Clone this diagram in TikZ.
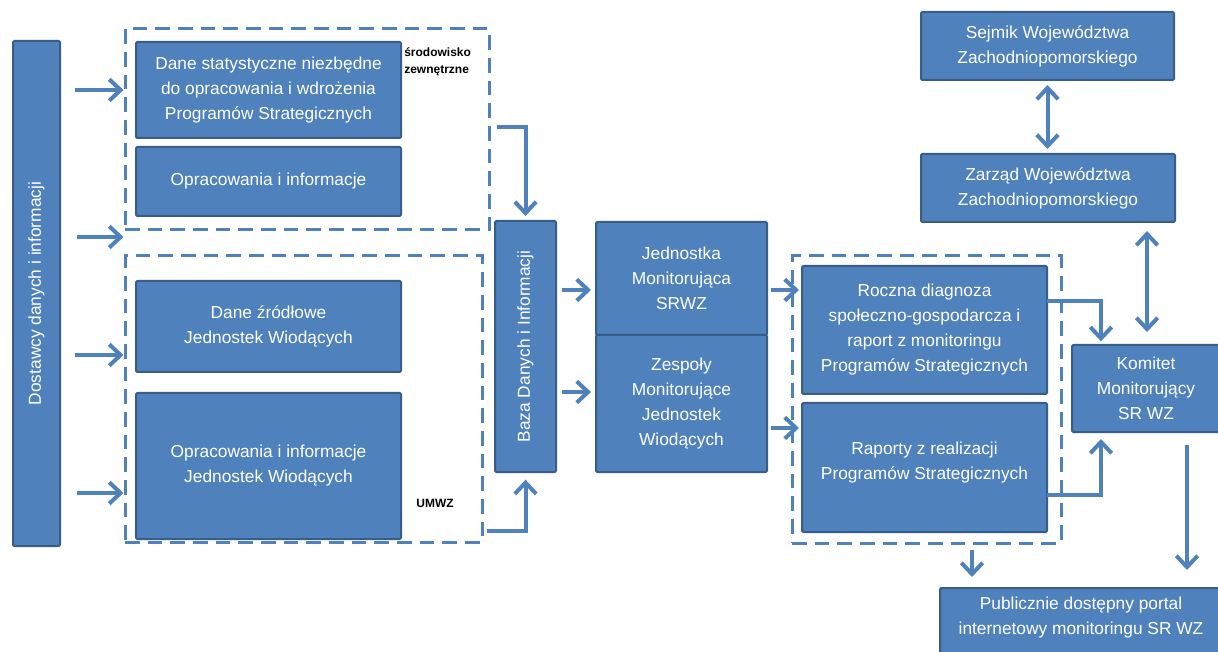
\documentclass[tikz,border=0pt]{standalone}
\usepackage{fontspec}
\setmainfont{Liberation Sans}
\usetikzlibrary{arrows.meta,positioning}
\definecolor{niebieski}{RGB}{79,129,189}
\definecolor{ramka}{RGB}{56,93,138}

\begin{document}
\begin{tikzpicture}[x=0.75pt,y=-0.75pt,
  pole/.style={draw=ramka, line width=1.5pt, fill=niebieski, text=white, inner sep=0pt, align=center, rounded corners=1pt, font=\fontsize{13}{18.75}\selectfont},
  napis/.style={text=white, inner sep=0pt, align=center, font=\fontsize{13}{18.75}\selectfont},
  grupa/.style={draw=niebieski, line width=2.25pt, dash pattern=on 11pt off 6pt, inner sep=0pt},
  strz/.style={draw=niebieski, line width=3pt, -{Straight Barb[length=8.5pt,width=16pt]}},
  dwustr/.style={strz, {Straight Barb[length=8.5pt,width=16pt]}-{Straight Barb[length=8.5pt,width=16pt]}},
  opis/.style={font=\fontsize{9}{12.75}\selectfont\bfseries, align=left, inner sep=0pt}]
\useasboundingbox (0,0) rectangle (1218,652);
\clip (0,0) rectangle (1218,652);

% grupy (ramki przerywane)
\node[grupa, minimum width=273pt, minimum height=150.75pt] (gora) at (307,129.5) {};
\node[grupa, minimum width=267.75pt, minimum height=214.5pt] (dol) at (303.5,399) {};
\node[grupa, minimum width=201.75pt, minimum height=215.25pt] (prawa) at (926.5,399.5) {};

% pola
\node[pole, minimum width=35.25pt, minimum height=378.75pt] (dost) at (36.5,293.5) {};
\node[napis, rotate=90] (dostTxt) at (dost) {Dostawcy danych i informacji};

\node[pole, minimum width=198.75pt, minimum height=72pt] (stat) at (268.5,90) {Dane statystyczne niezbędne\\do opracowania i wdrożenia\\Programów Strategicznych};
\node[pole, minimum width=198.75pt, minimum height=51.75pt] (opr) at (268.5,181.5) {Opracowania i informacje};
\node[pole, minimum width=198.75pt, minimum height=68.25pt] (zrod) at (268.5,326.5) {Dane źródłowe\\Jednostek Wiodących};
\node[pole, minimum width=198.75pt, minimum height=109.5pt] (oprjw) at (268.5,466) {Opracowania i informacje\\Jednostek Wiodących};

\node[pole, minimum width=45.75pt, minimum height=188.25pt] (baza) at (525.5,346.5) {};
\node[napis, rotate=90] (bazaTxt) at (baza) {Baza Danych i Informacji};

\node[pole, minimum width=128.25pt, minimum height=84.75pt] (jm) at (681.5,278.5) {Jednostka\\Monitorująca\\SRWZ};
\node[pole, minimum width=128.25pt, minimum height=102.75pt] (zesp) at (681.5,403.5) {Zespoły\\Monitorujące\\Jednostek\\Wiodących};

\node[pole, minimum width=183.75pt, minimum height=96pt] (rocz) at (924.5,330) {Roczna diagnoza\\społeczno-gospodarcza i\\raport z monitoringu\\Programów Strategicznych};
\node[pole, minimum width=183.75pt, minimum height=96.75pt] (rap) at (924.5,467.5) {};
\node[napis] (rapTxt) at (924.5,463) {Raporty z realizacji\\Programów Strategicznych};

\node[pole, minimum width=111pt, minimum height=65.25pt] (kom) at (1146,388.5) {Komitet\\Monitorujący\\SR WZ};
\node[pole, minimum width=189.75pt, minimum height=51pt] (sejm) at (1047.5,46) {Sejmik Województwa\\Zachodniopomorskiego};
\node[pole, minimum width=190.5pt, minimum height=51pt] (zarz) at (1048,188) {Zarząd Województwa\\Zachodniopomorskiego};

\node[pole, minimum width=211.5pt, minimum height=52.5pt] (portal) at (1081,623) {};
\node[napis] (portalTxt) at (1081,618) {Publicznie dostępny portal\\internetowy monitoringu SR WZ};

% opisy
\node[opis, anchor=north west] (srod) at (404,47) {środowisko\\zewnętrzne};
\node[opis] (umwz) at (435,503) {UMWZ};

% strzalki
\coordinate (w1) at (75,90);
\coordinate (w2) at (77,237);
\coordinate (w3) at (75,355);
\coordinate (w4) at (77,493);
\draw[strz] (w1) -- (w1 -| gora.west);
\draw[strz] (w2) -- (w2 -| gora.west);
\draw[strz] (w3) -- (w3 -| dol.west);
\draw[strz] (w4) -- (w4 -| dol.west);

\coordinate (b1) at (497,127);
\coordinate (b2) at (487,531);
\draw[strz, shorten >=3pt] (b1) -| (baza.north);
\draw[strz, shorten >=5pt] (b2) -| (baza.south);

\coordinate (c1) at (562,290);
\coordinate (c2) at (562,392);
\draw[strz, shorten >=3pt] (c1) -- (c1 -| jm.west);
\draw[strz, shorten >=3pt] (c2) -- (c2 -| zesp.west);

\coordinate (d1) at (771,290);
\coordinate (d2) at (771,428);
\draw[strz, shorten >=1.5pt] (d1) -- (d1 -| rocz.west);
\draw[strz, shorten >=1.5pt] (d2) -- (d2 -| rap.west);

\coordinate (k1) at (1047,301);
\coordinate (k2) at (1047,495);
\draw[strz, shorten >=2pt] (k1) -| ([xshift=22.5pt]kom.north west);
\draw[strz, shorten >=4.5pt] (k2) -| ([xshift=22.5pt]kom.south west);

\coordinate (m1) at (1147,231);
\draw[dwustr, shorten >=9pt] (m1) -- (m1 |- kom.north);
\draw[dwustr, shorten <=3pt, shorten >=3pt] (sejm.south) -- (sejm.south |- zarz.north);

\coordinate (o1) at (1187,445);
\coordinate (o2) at (1187,570);
\draw[strz] (o1) -- (o2);

\coordinate (p1) at (972,550);
\draw[strz, shorten >=7.5pt] (p1) -- (p1 |- portal.north);

\end{tikzpicture}
\end{document}
